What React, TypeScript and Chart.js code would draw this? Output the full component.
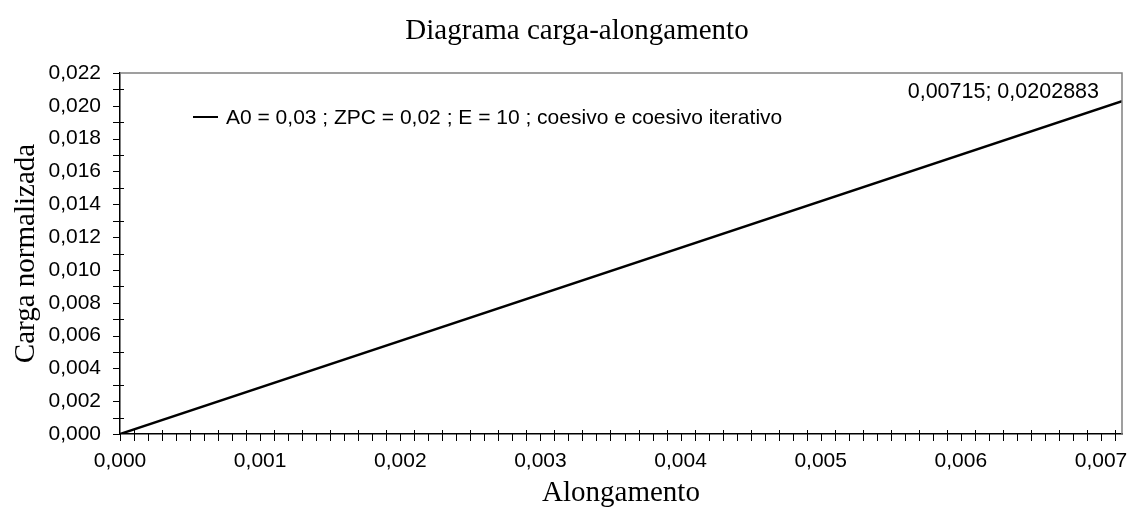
import React, { useEffect, useRef } from "react";
import { Chart, registerables } from "chart.js";

Chart.register(...registerables);

const chartTitle = "Diagrama carga-alongamento";
const xAxisTitle = "Alongamento";
const yAxisTitle = "Carga normalizada";
const seriesLabel = "A0 = 0,03 ; ZPC = 0,02 ; E = 10 ; coesivo e coesivo iterativo";
const xValues = [0, 0.00715];
const yValues = [0, 0.0202883];
const pointLabel = "0,00715; 0,0202883";
const xTicks = [0, 0.001, 0.002, 0.003, 0.004, 0.005, 0.006, 0.007];
const yTicks = [0, 0.002, 0.004, 0.006, 0.008, 0.01, 0.012, 0.014, 0.016, 0.018, 0.02, 0.022];
const xMax = 0.00715;
const yMax = 0.022;
const xMinorStep = 0.0001;
const yMinorStep = 0.001;

const SANS = "'Liberation Sans', Arial, sans-serif";
const SERIF = "'Liberation Serif', 'Times New Roman', serif";

const fmt3 = (v: number) => v.toFixed(3).replace(".", ",");

const decorPlugin = {
  id: "decor",
  afterDraw(chart: any) {
    const { ctx, chartArea, scales } = chart;
    const xs = scales.x;
    const ys = scales.y;
    ctx.save();
    // top & right frame
    ctx.strokeStyle = "#808080";
    ctx.lineWidth = 1.5;
    ctx.beginPath();
    ctx.moveTo(chartArea.left, chartArea.top);
    ctx.lineTo(chartArea.right, chartArea.top);
    ctx.lineTo(chartArea.right, chartArea.bottom);
    ctx.stroke();
    // x ticks
    ctx.strokeStyle = "#000";
    ctx.lineWidth = 1;
    const nx = Math.round(xMax / xMinorStep - 0.5);
    for (let i = 0; i <= nx; i++) {
      const px = Math.round(xs.getPixelForValue(i * xMinorStep)) + 0.5;
      ctx.beginPath();
      ctx.moveTo(px, chartArea.bottom + (i % 2 === 1 ? -4 : 0));
      ctx.lineTo(px, chartArea.bottom + 7);
      ctx.stroke();
    }
    const ny = Math.round(yMax / yMinorStep);
    for (let j = 0; j <= ny; j++) {
      const py = Math.round(ys.getPixelForValue(j * yMinorStep)) + 0.5;
      ctx.beginPath();
      ctx.moveTo(chartArea.left - 7, py);
      ctx.lineTo(chartArea.left + (j % 2 === 1 ? 4 : 0), py);
      ctx.stroke();
    }
    // title
    ctx.fillStyle = "#000";
    ctx.font = `29px ${SERIF}`;
    ctx.textAlign = "center";
    ctx.textBaseline = "middle";
    ctx.fillText(chartTitle, 577, 31);
    // legend
    ctx.lineWidth = 2;
    ctx.beginPath();
    ctx.moveTo(193, 117);
    ctx.lineTo(218, 117);
    ctx.stroke();
    ctx.font = `21px ${SANS}`;
    ctx.textAlign = "left";
    ctx.fillText(seriesLabel, 226, 118);
    // point label
    const lx = xs.getPixelForValue(xValues[xValues.length - 1]);
    const ly = ys.getPixelForValue(yValues[yValues.length - 1]);
    ctx.font = `21.5px ${SANS}`;
    ctx.textAlign = "right";
    ctx.fillText(pointLabel, lx - 23, ly - 9);
    ctx.restore();
  },
};

export default function App() {
  const ref = useRef<HTMLCanvasElement>(null);
  useEffect(() => {
    if (!ref.current) return;
    const chart = new Chart(ref.current, {
      type: "line",
      data: {
        datasets: [
          {
            label: seriesLabel,
            data: xValues.map((x, i) => ({ x, y: yValues[i] })),
            borderColor: "#000",
            borderWidth: 2.5,
            pointRadius: 0,
            tension: 0,
            fill: false,
          },
        ],
      },
      options: {
        responsive: false,
        animation: false,
        layout: { autoPadding: false, padding: { top: 73, right: 7, left: 0, bottom: 0 } },
        plugins: {
          legend: { display: false },
          title: { display: false },
          tooltip: { enabled: false },
        },
        scales: {
          x: {
            type: "linear",
            min: 0,
            max: xMax,
            afterFit: (s: any) => {
              s.height = 87;
              s.paddingLeft = 0;
              s.paddingRight = 0;
            },
            afterBuildTicks: (s: any) => {
              s.ticks = xTicks.map((v) => ({ value: v }));
            },
            grid: { display: false },
            border: { display: true, color: "#000", width: 1.5 },
            ticks: {
              color: "#000",
              font: { family: SANS, size: 21 },
              padding: 7,
              maxRotation: 0,
              callback: (v: any) => fmt3(Number(v)),
            },
            title: {
              display: true,
              text: xAxisTitle,
              color: "#000",
              font: { family: SERIF, size: 29 },
              padding: { bottom: 10, top: 0 },
            },
          },
          y: {
            type: "linear",
            min: 0,
            max: yMax,
            afterFit: (s: any) => {
              s.width = 120;
              s.paddingTop = 0;
              s.paddingBottom = 0;
            },
            afterBuildTicks: (s: any) => {
              s.ticks = yTicks.map((v) => ({ value: v }));
            },
            grid: { display: false },
            border: { display: true, color: "#000", width: 1.5 },
            ticks: {
              color: "#000",
              font: { family: SANS, size: 21 },
              padding: 11,
              callback: (v: any) => fmt3(Number(v)),
            },
            title: {
              display: true,
              text: yAxisTitle,
              color: "#000",
              font: { family: SERIF, size: 29 },
              padding: { top: 9, bottom: 0 },
            },
          },
        },
      },
      plugins: [decorPlugin],
    });
    return () => chart.destroy();
  }, []);
  return (
    <div style={{ position: "absolute", left: 0, top: 0, width: 1129, height: 521, background: "#fff" }}>
      <canvas ref={ref} width={1129} height={521} />
    </div>
  );
}
